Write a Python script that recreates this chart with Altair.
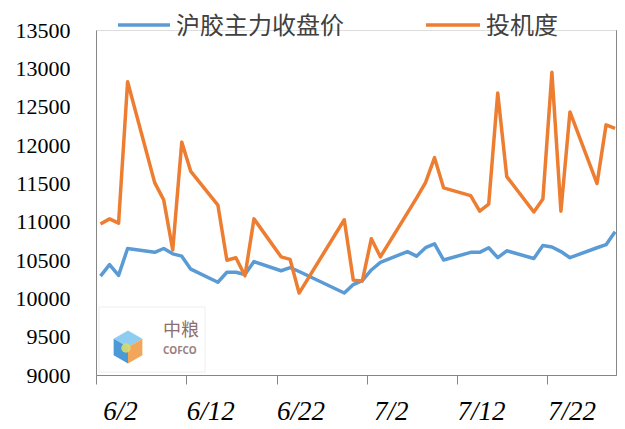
import json
import altair as alt
import pandas as pd

# day offsets from 6/2
days = [0, 1, 2, 3, 6, 7, 8, 9, 10, 13, 14, 15, 16, 17, 20, 21, 22, 27, 28, 29, 30, 31,
        34, 35, 36, 37, 38, 41, 42, 43, 44, 45, 48, 49, 50, 51, 52, 55, 56, 57]
price = [10290, 10440, 10300, 10650, 10600, 10650, 10580, 10550, 10380, 10210, 10340, 10340,
         10310, 10480, 10360, 10400, 10350, 10070, 10180, 10230, 10370, 10470, 10610, 10550,
         10660, 10710, 10500, 10600, 10600, 10660, 10530, 10620, 10520, 10690, 10670, 10610,
         10530, 10660, 10700, 10870]
spec = [1.75, 1.81, 1.76, 3.40, 2.23, 2.03, 1.45, 2.70, 2.36, 1.97, 1.33, 1.36, 1.15, 1.81,
        1.37, 1.34, 0.95, 1.80, 1.10, 1.09, 1.58, 1.37, 1.88, 2.05, 2.23, 2.52, 2.17, 2.08,
        1.90, 1.98, 3.27, 2.30, 1.89, 2.04, 3.51, 1.90, 3.05, 2.22, 2.90, 2.86]

tick_days = [0, 10, 20, 30, 40, 50]
tick_labels = ["6/2", "6/12", "6/22", "7/2", "7/12", "7/22"]
left_ticks = list(range(9000, 13501, 500))
right_ticks = [0, 1, 2, 3, 4]

series_names = ["沪胶主力收盘价", "投机度"]
colors = ["#5B9BD5", "#ED7D31"]

df = pd.DataFrame({"day": days, "price": price, "spec": spec})
AX = "#868686"

x_enc = alt.X(
    "x:Q",
    scale=alt.Scale(domain=[0, 57.6], nice=False, zero=False),
    axis=alt.Axis(
        values=tick_days,
        labelExpr=f"{json.dumps(tick_labels)}[indexof({json.dumps(tick_days)}, datum.value)]",
        title=None, grid=False, domainColor=AX, tickColor=AX, tickSize=9,
        labelFont="Liberation Serif", labelFontStyle="italic", labelFontSize=27,
        labelColor="#000000", labelOffset=24, labelPadding=14, labelBaseline="top",
        labelFlush=False, labelOverlap=False,
    ),
)

base = alt.Chart(df).transform_calculate(x="datum.day + 0.5")

blue = base.mark_line(color=colors[0], strokeWidth=3.5, strokeJoin="round").encode(
    x=x_enc,
    y=alt.Y("price:Q", scale=alt.Scale(domain=[9000, 13500], nice=False, zero=False),
            axis=alt.Axis(values=left_ticks, format="d", title=None, grid=False, ticks=False,
                          domainColor=AX, labelFont="Liberation Serif", labelFontSize=22,
                          labelColor="#000000", labelPadding=26)),
)

orange = base.mark_line(color=colors[1], strokeWidth=3.5, strokeJoin="round").encode(
    x=x_enc,
    y=alt.Y("spec:Q", scale=alt.Scale(domain=[0, 4], nice=False, zero=False),
            axis=alt.Axis(values=right_ticks, orient="right", title=None, grid=False,
                          labels=False, tickSize=2, tickColor=AX, domainColor=AX)),
)

one = alt.Chart(pd.DataFrame({"k": [0]}))

# legend
leg_blue_line = one.mark_rule(color=colors[0], strokeWidth=3.5).encode(
    x=alt.value(22), x2=alt.value(74), y=alt.value(-5))
leg_blue_text = one.mark_text(text=series_names[0], align="left", baseline="middle",
                              font="Noto Sans CJK SC", fontSize=24, color="#404040").encode(
    x=alt.value(80), y=alt.value(-3))
leg_or_line = one.mark_rule(color=colors[1], strokeWidth=3.5).encode(
    x=alt.value(330), x2=alt.value(384), y=alt.value(-5))
leg_or_text = one.mark_text(text=series_names[1], align="left", baseline="middle",
                            font="Noto Sans CJK SC", fontSize=24, color="#404040").encode(
    x=alt.value(390), y=alt.value(-3))

# logo box
logo_box = one.mark_rect(fill="#ffffff", stroke="#eeeeee", strokeWidth=1).encode(
    x=alt.value(3), x2=alt.value(109), y=alt.value(277), y2=alt.value(342))
cube_top = one.mark_point(shape="M0,-1L0.866,-0.5L0,0L-0.866,-0.5Z", filled=True,
                          color="#8fcdf0", opacity=1, size=1100).encode(
    x=alt.value(32), y=alt.value(317))
cube_left = one.mark_point(shape="M-0.866,-0.5L0,0L0,1L-0.866,0.5Z", filled=True,
                           color="#4a9ad8", opacity=1, size=1100).encode(
    x=alt.value(32), y=alt.value(317))
cube_right = one.mark_point(shape="M0.866,-0.5L0.866,0.5L0,1L0,0Z", filled=True,
                            color="#f2a65a", opacity=1, size=1100).encode(
    x=alt.value(32), y=alt.value(317))
cube_leaf = one.mark_point(shape="circle", filled=True, color="#d8dc6a", opacity=0.9,
                           size=90).encode(x=alt.value(30), y=alt.value(318))
logo_cn = one.mark_text(text="中粮", align="left", baseline="middle",
                        font="Noto Sans CJK SC", fontSize=18, color="#8c6f6f").encode(
    x=alt.value(67), y=alt.value(301))
logo_en = one.mark_text(text="COFCO", align="left", baseline="middle",
                        font="Noto Sans", fontSize=10, fontWeight="bold", color="#9a8080").encode(
    x=alt.value(67), y=alt.value(321))

chart = alt.layer(
    logo_box, cube_top, cube_left, cube_right, cube_leaf, logo_cn, logo_en,
    blue, orange,
    leg_blue_line, leg_blue_text, leg_or_line, leg_or_text,
).resolve_scale(y="independent").properties(
    width=520, height=345,
    autosize=alt.AutoSizeParams(type="none"),
    padding={"left": 88, "top": 22, "right": 1, "bottom": 50},
).configure_view(strokeWidth=0).configure(background="#ffffff")

chart.save("out.html", embed_options={"renderer": "svg", "actions": False})
